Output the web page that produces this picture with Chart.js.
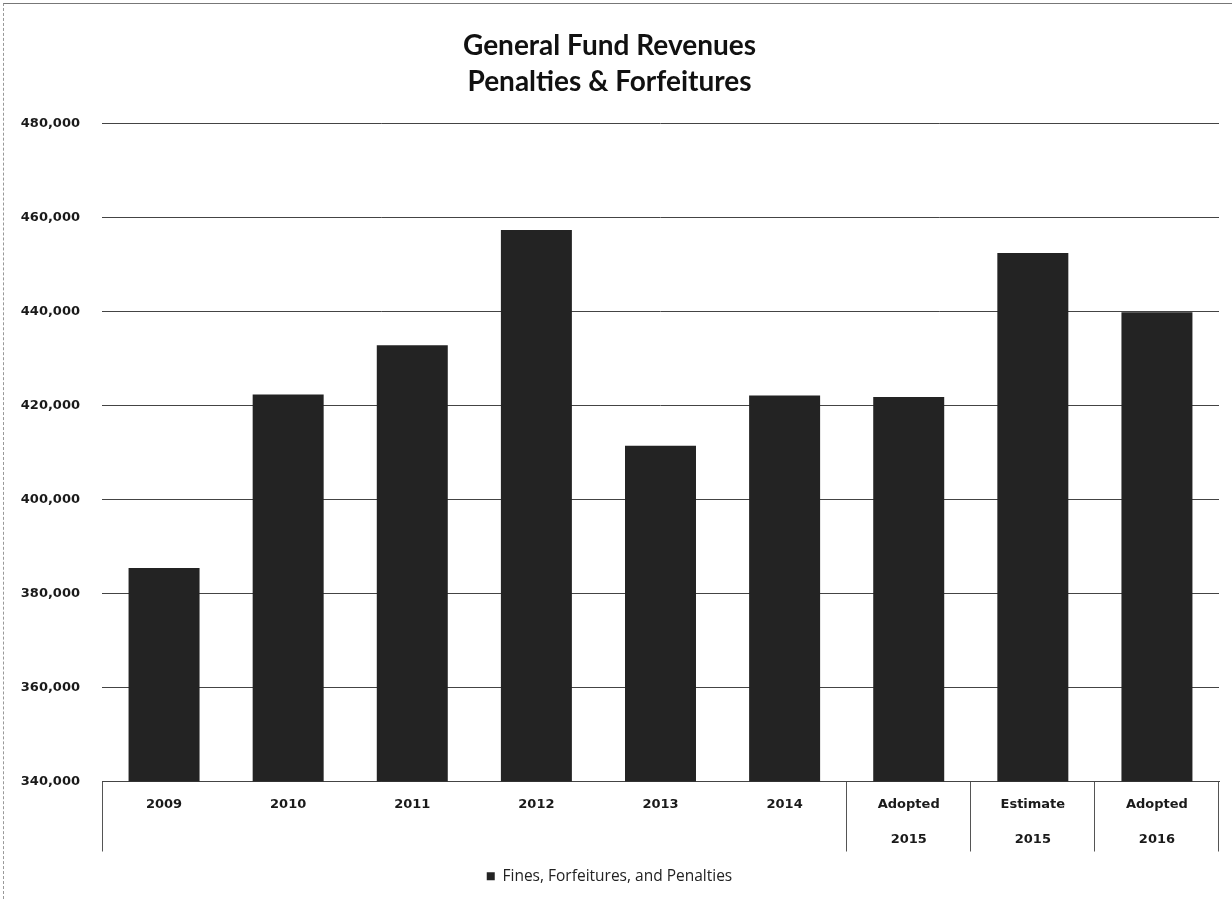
<!DOCTYPE html>
<html>
<head>
<meta charset="utf-8">
<script src="https://cdn.jsdelivr.net/npm/chart.js@4"></script>
<style>
  html, body { margin: 0; padding: 0; background: #fff; }
  #wrap { position: relative; width: 1232px; height: 899px; }
  #frame { position: absolute; left: 3px; top: 3px; right: 0; bottom: 0;
           border-top: 1px solid #777; border-left: 1px dashed #999; pointer-events: none; }
</style>
</head>
<body>
<div id="wrap">
  <canvas id="revChart" width="1232" height="899"></canvas>
  <div id="frame"></div>
</div>
<script>
// Data
const categories = [
  ['2009', ''], ['2010', ''], ['2011', ''], ['2012', ''], ['2013', ''], ['2014', ''],
  ['Adopted', '2015'], ['Estimate', '2015'], ['Adopted', '2016']
];
const fines = [385400, 422300, 432800, 457300, 411400, 422100, 421800, 452400, 439800];
const yMin = 340000;
const yMax = 480000;
const yStep = 20000;
const seriesName = 'Fines, Forfeitures, and Penalties';
const titleLines = ['General Fund Revenues', 'Penalties & Forfeitures'];

// x-axis separators only around the budget columns
const separatorAt = [0, 6, 7, 8];

const ctx = document.getElementById('revChart').getContext('2d');
new Chart(ctx, {
  type: 'bar',
  data: {
    labels: categories,
    datasets: [{
      label: seriesName,
      data: fines,
      backgroundColor: '#232323',
      borderWidth: 0,
      categoryPercentage: 1,
      barPercentage: 0.572
    }]
  },
  options: {
    responsive: false,
    animation: false,
    layout: { padding: { left: 0, right: 13, top: 0, bottom: 5 } },
    plugins: {
      title: {
        display: true,
        text: titleLines,
        color: '#111',
        font: { family: 'Lato', size: 28, weight: 'bold', lineHeight: 1.29 },
        padding: { top: 28, bottom: 23 }
      },
      legend: {
        position: 'bottom',
        labels: {
          boxWidth: 8,
          boxHeight: 8,
          padding: 9,
          color: '#222',
          font: { family: 'Open Sans', size: 15.5 }
        }
      },
      tooltip: { enabled: false }
    },
    scales: {
      x: {
        grid: {
          offset: true,
          drawOnChartArea: false,
          drawTicks: true,
          tickLength: 70,
          tickColor: c => (c.index === undefined || separatorAt.includes(c.index)) ? '#555' : 'rgba(0,0,0,0)',
          color: 'rgba(0,0,0,0)'
        },
        border: { display: true, color: '#444' },
        ticks: {
          color: '#1a1a1a',
          padding: -64,
          maxRotation: 0,
          autoSkip: false,
          font: { family: 'DejaVu Sans', size: 13, weight: 'bold', lineHeight: 2.65 }
        },
        afterFit: scale => { scale.height = 78; }
      },
      y: {
        min: yMin,
        max: yMax,
        grid: { color: '#444', lineWidth: 1, drawTicks: false },
        border: { display: false },
        ticks: {
          stepSize: yStep,
          padding: 22,
          color: '#1a1a1a',
          font: { family: 'DejaVu Sans', size: 13, weight: 'bold' },
          callback: v => v.toLocaleString('en-US')
        },
        afterFit: scale => { scale.width = 102; }
      }
    }
  }
});
</script>
</body>
</html>
